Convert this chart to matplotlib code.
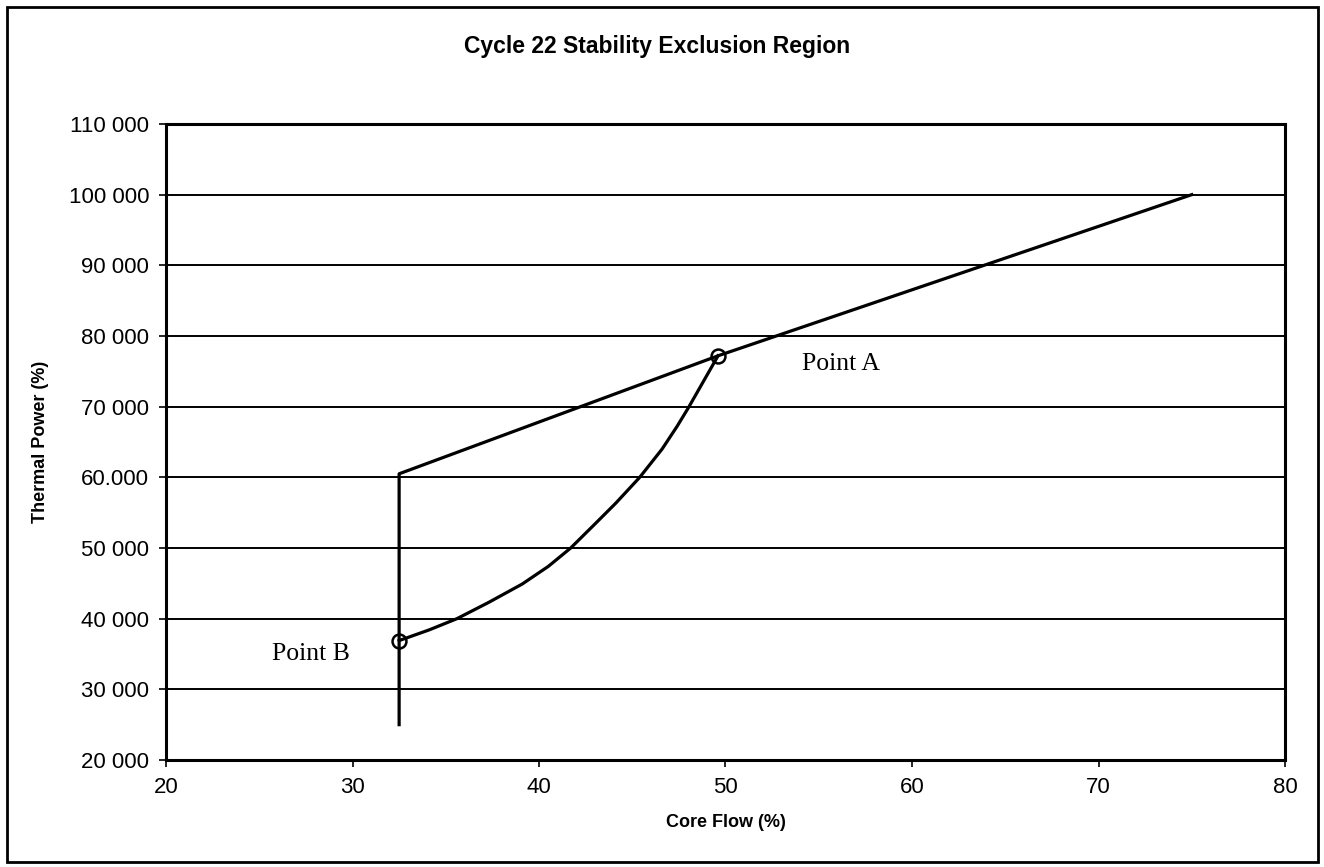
import matplotlib
matplotlib.use("Agg")
import matplotlib.pyplot as plt
from matplotlib.patches import Rectangle

# boundary: vertical at min flow, then the upper rod line through point A
bound_x = [32.5, 32.5, 49.6, 75.0]
bound_y = [25000, 60500, 77200, 100000]
# curve from Point B to Point A
curve_x = [32.5, 34.1, 35.6, 37.3, 39.1, 40.5, 41.7, 43.0, 44.1,
           45.4, 46.6, 47.4, 48.0, 48.8, 49.6]
curve_y = [36900, 38400, 40000, 42300, 44900, 47400, 50000, 53400, 56300,
           60000, 64000, 67200, 69800, 73500, 77200]
pts_x = [49.6, 32.5]
pts_y = [77200, 36900]
pts_lbl = ["Point A", "Point B"]
lbl_x = [54.1, 25.7]
lbl_y = [76000, 35000]

yticks = [20000, 30000, 40000, 50000, 60000, 70000, 80000, 90000, 100000, 110000]
ylabels = ["20 000", "30 000", "40 000", "50 000", "60.000", "70 000",
           "80 000", "90 000", "100 000", "110 000"]
xticks = [20, 30, 40, 50, 60, 70, 80]

plt.rcParams['font.family'] = ['Liberation Sans', 'DejaVu Sans']
fig = plt.figure(figsize=(13.24, 8.67), dpi=100)
ax = fig.add_axes([166/1324, 1-760/867, (1285-166)/1324, (760-124)/867])

for y in yticks:
    ax.axhline(y, color='black', lw=1.4, zorder=1)
ax.plot(bound_x, bound_y, color='black', lw=2.3, zorder=3)
ax.plot(curve_x, curve_y, color='black', lw=2.3, zorder=3, solid_joinstyle='round')
ax.plot(pts_x, pts_y, 'o', ms=10, mfc='none', mec='black', mew=1.8, zorder=4)
for t, x, y in zip(pts_lbl, lbl_x, lbl_y):
    ax.text(x, y, t, fontsize=18.5, family='Liberation Serif', va='center', ha='left')

ax.set_xlim(20, 80)
ax.set_ylim(20000, 110000)
ax.set_xticks(xticks)
ax.set_xticklabels([str(v) for v in xticks])
ax.set_yticks(yticks)
ax.set_yticklabels(ylabels)
ax.tick_params(labelsize=16, length=5, width=1.2, pad=7, direction='out')
for s in ax.spines.values():
    s.set_linewidth(2.2)

ax.set_xlabel("Core Flow (%)", fontsize=13, fontweight='bold', labelpad=12)
ax.set_ylabel("Thermal Power (%)", fontsize=13, fontweight='bold', labelpad=14)
fig.text(0.496, 1-46/867, "Cycle 22 Stability Exclusion Region", fontsize=16.5,
         fontweight='bold', ha='center', va='center')

fig.patches.append(Rectangle((7/1324, 5/867), (1318-7)/1324, (860-5)/867,
                             transform=fig.transFigure, fill=False, ec='black', lw=2))

fig.savefig("out.png", dpi=100)
